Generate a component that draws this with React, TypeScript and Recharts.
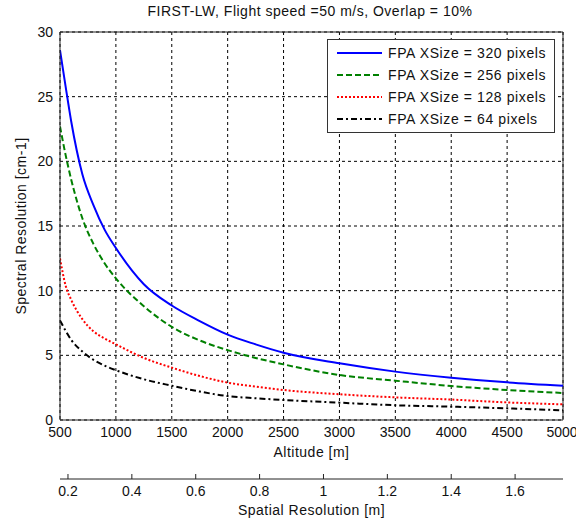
import React from 'react';
import {
  LineChart,
  Line,
  XAxis,
  YAxis,
  CartesianGrid,
  ReferenceLine,
  Legend
} from 'recharts';

// altitude samples [m]
const altitudes = [500, 550, 600, 700, 800, 900, 1000, 1250, 1500, 1750, 2000, 2250, 2500, 3000, 3500, 4000, 4500, 5000];
// matching spatial resolution [m] for the lower axis
const spatialRes = [0.175, 0.1925, 0.21, 0.245, 0.28, 0.315, 0.35, 0.4375, 0.525, 0.6125, 0.7, 0.7875, 0.875, 1.05, 1.225, 1.4, 1.575, 1.75];

// spectral resolution [cm-1] per FPA size
const px320 = [28.6, 25.8, 23.1, 19.0, 16.6, 14.7, 13.3, 10.5, 8.85, 7.65, 6.6, 5.85, 5.2, 4.38, 3.74, 3.27, 2.91, 2.65];
const px256 = [22.7, 20.5, 18.6, 15.6, 13.6, 12.1, 10.95, 8.8, 7.2, 6.15, 5.4, 4.8, 4.3, 3.48, 3.04, 2.63, 2.32, 2.09];
const px128 = [12.5, 10.4, 9.3, 7.8, 6.85, 6.3, 5.85, 4.8, 4.05, 3.4, 2.89, 2.58, 2.32, 1.99, 1.75, 1.58, 1.36, 1.21];
const px64 = [7.7, 6.9, 6.2, 5.3, 4.65, 4.2, 3.85, 3.15, 2.65, 2.2, 1.85, 1.68, 1.55, 1.34, 1.14, 1.03, 0.9, 0.75];

const altTicks = [500, 1000, 1500, 2000, 2500, 3000, 3500, 4000, 4500, 5000];
const specTicks = [0, 5, 10, 15, 20, 25, 30];
const spatialTicks = [0.2, 0.4, 0.6, 0.8, 1, 1.2, 1.4, 1.6];

const series = [
  { key: 'p320', name: 'FPA XSize = 320 pixels', color: '#0000ff', dash: undefined },
  { key: 'p256', name: 'FPA XSize = 256 pixels', color: '#008000', dash: '6 3' },
  { key: 'p128', name: 'FPA XSize = 128 pixels', color: '#ff0000', dash: '2 2' },
  { key: 'p64', name: 'FPA XSize = 64 pixels', color: '#000000', dash: '6 3 2 3' }
];

const data = altitudes.map((alt, i) => ({
  alt,
  spatial: spatialRes[i],
  p320: px320[i],
  p256: px256[i],
  p128: px128[i],
  p64: px64[i]
}));

const font = 'Liberation Sans, Arial, Helvetica, sans-serif';
const tickStyle = { fontSize: 14, fill: '#111', fontFamily: font };
const labelStyle = { ...tickStyle, letterSpacing: 0.5 };

const LegendBox = () => (
  <div
    style={{
      background: '#fff',
      border: '1px solid #333',
      padding: '2px 8px 2px 9px',
      fontFamily: font,
      fontSize: 14,
      letterSpacing: 0.6,
      color: '#111'
    }}
  >
    {series.map((s) => (
      <div key={s.key} style={{ display: 'flex', alignItems: 'center', height: 22 }}>
        <svg width={45} height={6} style={{ marginRight: 6 }}>
          <line x1={0} y1={3} x2={45} y2={3} stroke={s.color} strokeWidth={2} strokeDasharray={s.dash} />
        </svg>
        <span>{s.name}</span>
      </div>
    ))}
  </div>
);

const YLabel = (props: any) => {
  const vb = props.viewBox || { y: 32, height: 388 };
  const cy = vb.y + vb.height / 2;
  return (
    <text
      x={21}
      y={cy}
      transform={`rotate(-90, 21, ${cy})`}
      textAnchor="middle"
      dominantBaseline="central"
      style={labelStyle}
    >
      Spectral Resolution [cm-1]
    </text>
  );
};

export default function App() {
  return (
    <div style={{ position: 'absolute', left: 0, top: 0, width: 576, height: 521, background: '#fff' }}>
      <div
        style={{
          position: 'absolute',
          left: 40,
          top: 3,
          width: 540,
          textAlign: 'center',
          fontFamily: font,
          fontSize: 14,
          letterSpacing: 0.5,
          color: '#111'
        }}
      >
        FIRST-LW, Flight speed =50 m/s, Overlap = 10%
      </div>
      <LineChart width={576} height={521} data={data} margin={{ top: 32, right: 13, bottom: 0, left: 0 }}>
        <CartesianGrid stroke="#000" strokeDasharray="3 3" />
        <XAxis
          dataKey="alt"
          type="number"
          domain={[500, 5000]}
          ticks={altTicks}
          allowDataOverflow
          height={59}
          stroke="#222"
          tickLine={false}
          tickSize={0}
          tickMargin={7}
          tick={tickStyle}
          label={{ value: 'Altitude [m]', position: 'insideTop', offset: 27, style: labelStyle }}
        />
        <XAxis
          xAxisId="spatial"
          dataKey="spatial"
          type="number"
          domain={[0.175, 1.75]}
          ticks={spatialTicks}
          allowDataOverflow
          height={42}
          stroke="#222"
          tickSize={-5}
          tickMargin={12}
          tick={tickStyle}
          label={{ value: 'Spatial Resolution [m]', position: 'insideTop', offset: 26, style: labelStyle }}
        />
        <YAxis
          type="number"
          domain={[0, 30]}
          ticks={specTicks}
          width={60}
          stroke="#222"
          tickLine={false}
          tickSize={0}
          tickMargin={7}
          tick={tickStyle}
          label={YLabel}
        />
        <ReferenceLine y={30} stroke="#222" />
        <ReferenceLine x={5000} stroke="#222" />
        {series.map((s) => (
          <Line
            key={s.key}
            type="monotone"
            dataKey={s.key}
            name={s.name}
            stroke={s.color}
            strokeWidth={2}
            strokeDasharray={s.dash}
            dot={false}
            isAnimationActive={false}
          />
        ))}
        <Legend
          layout="vertical"
          align="center"
          verticalAlign="middle"
          content={<LegendBox />}
          wrapperStyle={{ position: 'absolute', left: 327, top: 39, width: 'auto', height: 'auto' }}
        />
      </LineChart>
    </div>
  );
}
